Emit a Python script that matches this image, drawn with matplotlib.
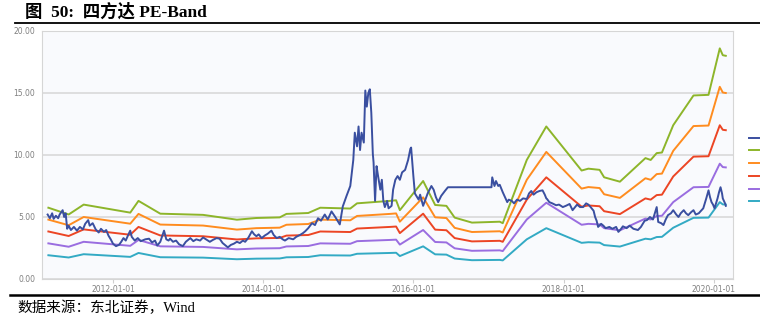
import numpy as np
import matplotlib
matplotlib.use('Agg')
import matplotlib.pyplot as plt

# 收盘价（年份以小数表示）
price_years = [
    2011.13, 2011.16, 2011.19, 2011.21, 2011.24, 2011.27, 2011.29, 2011.33, 2011.35, 2011.37,
    2011.39, 2011.41, 2011.44, 2011.48, 2011.52, 2011.56, 2011.60, 2011.63, 2011.67, 2011.69,
    2011.73, 2011.77, 2011.81, 2011.84, 2011.88, 2011.91, 2011.94, 2011.97, 2012.00, 2012.04,
    2012.08, 2012.11, 2012.14, 2012.17, 2012.21, 2012.23, 2012.25, 2012.29, 2012.33, 2012.37,
    2012.43, 2012.48, 2012.52, 2012.56, 2012.59, 2012.63, 2012.68, 2012.71, 2012.74, 2012.76,
    2012.80, 2012.84, 2012.88, 2012.93, 2012.97, 2013.03, 2013.07, 2013.11, 2013.16, 2013.20,
    2013.25, 2013.29, 2013.33, 2013.38, 2013.42, 2013.46, 2013.50, 2013.53, 2013.57, 2013.61,
    2013.65, 2013.69, 2013.73, 2013.76, 2013.80, 2013.85, 2013.88, 2013.91, 2013.94, 2013.98,
    2014.02, 2014.06, 2014.11, 2014.14, 2014.18, 2014.22, 2014.26, 2014.29, 2014.34, 2014.40,
    2014.44, 2014.49, 2014.53, 2014.56, 2014.60, 2014.65, 2014.69, 2014.73, 2014.77, 2014.82,
    2014.86, 2014.91, 2014.96, 2015.00, 2015.02, 2015.06, 2015.11, 2015.16, 2015.20, 2015.22,
    2015.25, 2015.27, 2015.29, 2015.31, 2015.34, 2015.36, 2015.38, 2015.40, 2015.42, 2015.44,
    2015.46, 2015.47, 2015.49, 2015.51, 2015.53, 2015.56, 2015.58, 2015.60, 2015.62, 2015.65,
    2015.67, 2015.71, 2015.73, 2015.76, 2015.79, 2015.82, 2015.85, 2015.89, 2015.93, 2015.96,
    2015.97, 2016.00, 2016.02, 2016.07, 2016.09, 2016.13, 2016.16, 2016.19, 2016.24, 2016.27,
    2016.30, 2016.33, 2016.37, 2016.42, 2016.46, 2017.04, 2017.05, 2017.08, 2017.10, 2017.13,
    2017.15, 2017.17, 2017.19, 2017.22, 2017.25, 2017.27, 2017.31, 2017.34, 2017.38, 2017.42,
    2017.46, 2017.51, 2017.54, 2017.57, 2017.60, 2017.64, 2017.68, 2017.72, 2017.75, 2017.77,
    2017.78, 2017.81, 2017.85, 2017.90, 2017.94, 2017.99, 2018.03, 2018.08, 2018.12, 2018.18,
    2018.22, 2018.26, 2018.30, 2018.33, 2018.36, 2018.40, 2018.42, 2018.44, 2018.46, 2018.50,
    2018.53, 2018.56, 2018.61, 2018.65, 2018.70, 2018.73, 2018.76, 2018.79, 2018.84, 2018.88,
    2018.93, 2018.99, 2019.03, 2019.08, 2019.11, 2019.15, 2019.19, 2019.24, 2019.26, 2019.30,
    2019.33, 2019.36, 2019.39, 2019.43, 2019.46, 2019.50, 2019.53, 2019.56, 2019.60, 2019.63,
    2019.66, 2019.70, 2019.73, 2019.76, 2019.80, 2019.83, 2019.86, 2019.90, 2019.93, 2019.95,
    2019.97, 2019.99, 2020.01, 2020.05, 2020.07, 2020.09, 2020.11, 2020.12, 2020.15, 2020.16,
]
price = [
    5.20, 4.90, 5.30, 4.85, 5.10, 4.90, 5.20, 5.55, 5.00, 5.30,
    4.05, 4.30, 3.95, 4.20, 3.90, 4.20, 4.00, 4.45, 4.75, 4.30,
    4.50, 4.00, 3.75, 4.05, 3.80, 3.95, 3.50, 3.20, 2.85, 2.65,
    2.75, 3.00, 3.30, 3.10, 3.65, 3.90, 3.40, 3.10, 3.30, 3.05,
    3.20, 3.25, 2.95, 3.10, 2.70, 3.00, 3.90, 3.20, 3.10, 3.25,
    3.00, 3.10, 2.80, 2.65, 3.00, 3.30, 3.05, 3.20, 3.10, 3.35,
    3.15, 3.00, 3.15, 3.30, 3.25, 2.90, 2.70, 2.55, 2.75, 2.85,
    3.00, 2.90, 3.10, 3.00, 3.30, 3.85, 3.60, 3.45, 3.60, 3.30,
    3.50, 3.65, 3.90, 3.55, 3.30, 3.40, 3.20, 3.10, 3.30, 3.20,
    3.40, 3.55, 3.70, 3.85, 4.10, 4.50, 4.35, 4.90, 4.70, 5.20,
    4.80, 5.45, 5.00, 4.60, 4.40, 5.85, 6.70, 7.50, 9.60, 11.80,
    10.70, 12.30, 10.40, 11.80, 11.00, 15.20, 13.90, 15.00, 15.30, 13.40,
    10.10, 9.40, 6.30, 9.10, 8.30, 7.20, 8.00, 6.30, 5.80, 6.30,
    5.70, 5.90, 7.20, 8.00, 8.30, 8.00, 8.60, 8.80, 9.60, 10.50,
    10.60, 8.30, 6.90, 6.40, 6.80, 5.90, 6.40, 6.90, 7.50, 7.20,
    6.60, 6.20, 6.70, 7.10, 7.40, 7.40, 8.20, 7.50, 7.90, 7.50,
    7.60, 7.30, 7.00, 6.60, 6.20, 6.40, 6.30, 6.10, 6.40, 6.30,
    6.50, 6.45, 6.90, 7.10, 6.80, 7.00, 7.10, 7.15, 6.80, 6.50,
    6.45, 6.20, 6.10, 5.95, 6.00, 5.80, 5.90, 6.05, 5.55, 6.00,
    5.80, 5.80, 6.10, 6.00, 5.80, 5.50, 5.00, 4.70, 4.20, 4.45,
    4.30, 4.10, 4.20, 4.05, 4.20, 3.80, 4.00, 4.25, 4.10, 4.30,
    4.05, 3.95, 4.20, 4.70, 4.75, 5.00, 4.80, 5.80, 4.60, 4.50,
    4.35, 4.80, 5.15, 5.30, 5.55, 5.20, 5.00, 5.30, 5.55, 5.30,
    5.15, 5.40, 5.55, 5.20, 5.30, 5.50, 5.70, 6.50, 7.15, 6.60,
    6.20, 6.00, 5.70, 6.50, 7.00, 7.40, 6.90, 6.50, 6.10, 5.90,
]

# 滚动EPS拐点
eps_years = [
    2011.14, 2011.41, 2011.61, 2012.23, 2012.34, 2012.63, 2013.20, 2013.65, 2013.91, 2014.22,
    2014.31, 2014.60, 2014.76, 2015.16, 2015.25, 2015.69, 2015.77, 2015.82, 2016.13, 2016.29,
    2016.44, 2016.55, 2016.78, 2017.15, 2017.19, 2017.51, 2017.77, 2018.24, 2018.33, 2018.48,
    2018.54, 2018.75, 2019.09, 2019.16, 2019.24, 2019.31, 2019.46, 2019.73, 2019.93, 2020.08,
    2020.12, 2020.16,
]
eps = [
    0.0958, 0.0867, 0.1000, 0.0892, 0.1050, 0.0878, 0.0862, 0.0797, 0.0820, 0.0828,
    0.0875, 0.0887, 0.0958, 0.0947, 0.1017, 0.1050, 0.1058, 0.0925, 0.1317, 0.0995,
    0.0983, 0.0825, 0.0758, 0.0770, 0.0750, 0.1600, 0.2050, 0.1458, 0.1483, 0.1467,
    0.1367, 0.1308, 0.1625, 0.1600, 0.1692, 0.1700, 0.2067, 0.2467, 0.2475, 0.3100,
    0.3008, 0.3000,
]

pe_multiples = [60, 50, 40, 30, 20]
band_labels = ['60X', '50X', '40X', '30X', '20X']
band_colors = ['#8db52a', '#ff8c1f', '#ec4524', '#9a6de0', '#33aac4']
price_color = '#3a4fa0'

tick_years = [2012, 2014, 2016, 2018, 2020]
tick_labels = ['2012-01-01', '2014-01-01', '2016-01-01', '2018-01-01', '2020-01-01']

fig = plt.figure(figsize=(7.6, 3.26), dpi=100)
ax = fig.add_axes([42 / 760, 47 / 326, 691 / 760, 248 / 326])
ax.set_facecolor('#f9fafd')

eps_arr = np.array(eps)
handles = []
for mult, lab, col in zip(pe_multiples, band_labels, band_colors):
    h, = ax.plot(eps_years, eps_arr * mult, color=col, lw=1.4, label=lab, zorder=3)
    handles.append(h)
hp, = ax.plot(price_years, price, color=price_color, lw=1.4, label='收盘价', zorder=4)

ax.set_xlim(2011.055, 2020.256)
ax.set_ylim(0, 20)
ax.set_yticks([0, 5, 10, 15, 20])
ax.set_yticklabels(['0.00', '5.00', '10.00', '15.00', '20.00'])
ax.set_xticks(tick_years)
ax.set_xticklabels(tick_labels)
ax.grid(axis='y', color='#d9d9d9', lw=1.2, zorder=0)
ax.tick_params(axis='y', length=0, labelsize=5.5, labelcolor='#7f7f7f', pad=5)
ax.tick_params(axis='x', length=3, color='#d0d0d0', labelsize=5.5, labelcolor='#7f7f7f', pad=1)
for side in ['left', 'right', 'top', 'bottom']:
    ax.spines[side].set_color('#d6d6d6')
    ax.spines[side].set_linewidth(0.8)

# 图例只露出线段，文字被右边界截去
leg = fig.legend([hp] + handles, ['收盘价'] + band_labels, loc='upper left',
                 bbox_to_anchor=(741 / 760, 1 - 126 / 326), frameon=False,
                 handlelength=1.3, labelspacing=0.45, handletextpad=0.6,
                 prop={'family': ['Noto Sans CJK SC', 'DejaVu Sans'], 'size': 6})
for t in leg.get_texts():
    t.set_color('#c8b48c')

# 标题与来源
fig.text(25 / 760, 1 - 12 / 326, '图  50:  四方达 PE-Band', fontsize=12.5, fontweight='bold',
         family=['Liberation Serif', 'Noto Sans CJK SC'], va='center', ha='left')
fig.add_artist(plt.Line2D([15 / 760, 1.0], [1 - 23 / 326, 1 - 23 / 326], color='black', lw=1.3))
fig.add_artist(plt.Line2D([10 / 760, 1.0], [1 - 295 / 326, 1 - 295 / 326], color='black', lw=1.8))
fig.text(17 / 760, 1 - 308 / 326, '数据来源：东北证券，Wind', fontsize=10.5,
         family=['Liberation Serif', 'Noto Sans CJK SC'], va='center', ha='left')

fig.savefig('out.png', dpi=100)
